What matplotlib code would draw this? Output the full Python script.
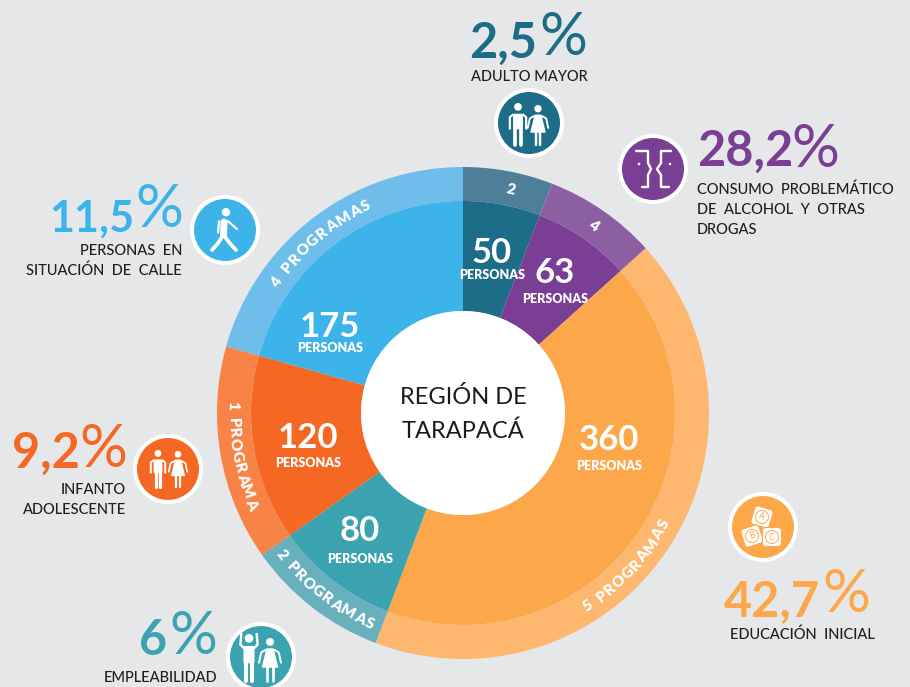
import numpy as np
import matplotlib
matplotlib.use("Agg")
import matplotlib.pyplot as plt
from matplotlib.patches import Circle, Polygon, FancyBboxPatch
from matplotlib.font_manager import FontProperties
from matplotlib.textpath import TextPath

# ---------- data ----------
groups = ["ADULTO MAYOR", "CONSUMO", "EDUCACION", "EMPLEO", "INFANTO", "CALLE"]
persons = [50, 63, 360, 80, 120, 175]
programs = ["2", "4", "5 PROGRAMAS", "2 PROGRAMAS", "1 PROGRAMA", "4 PROGRAMAS"]
shares = ["2,5", "28,2", "42,7", "6", "9,2", "11,5"]
captions = [["ADULTO MAYOR"],
            ["CONSUMO  PROBLEMÁTICO", "DE  ALCOHOL  Y  OTRAS", "DROGAS"],
            ["EDUCACIÓN  INICIAL"],
            ["EMPLEABILIDAD"],
            ["INFANTO", "ADOLESCENTE"],
            ["PERSONAS  EN", "SITUACIÓN  DE  CALLE"]]
center_title = ["REGIÓN DE", "TARAPACÁ"]
unit = "PERSONAS"

# ---------- styles ----------
inner_colors = ["#1D6C88", "#7A3E94", "#FCA84A", "#3AA3AF", "#F46823", "#3CB4E9"]
outer_colors = ["#4F7F98", "#8C5FA3", "#FDB76F", "#68B0BC", "#F78347", "#6EBDEA"]
BG = "#E6E7E9"
INK = "#1E1E1E"
FONT = "Lato"
CX, CY, R_OUT, R_MID, R_HOLE = 463, 413, 246, 212, 102

fig = plt.figure(figsize=(9.10, 6.87), dpi=100, facecolor=BG)
ax = fig.add_axes([0, 0, 1, 1])
ax.set_facecolor(BG)

# y axis runs downward, so increasing angle runs clockwise on screen
ax.pie(persons, colors=outer_colors, startangle=-90, counterclock=True,
       center=(CX, CY), radius=R_OUT,
       wedgeprops=dict(width=R_OUT - R_MID, linewidth=0))
ax.pie(persons, colors=inner_colors, startangle=-90, counterclock=True,
       center=(CX, CY), radius=R_MID,
       wedgeprops=dict(width=R_MID - R_HOLE, linewidth=0))
ax.add_patch(Circle((CX, CY), R_HOLE, fc="white", ec="none", zorder=3))
ax.set_xlim(0, 910)
ax.set_ylim(687, 0)
ax.set_aspect("equal")
ax.axis("off")


def px(v):
    return v * 0.72


for i, line in enumerate(center_title):
    ax.text(CX, 397 + 34 * i, line, ha="center", va="center", color="#1A1A1A",
            family=FONT, size=17, weight="regular", zorder=4)

# values inside the inner ring
value_pos = [(492, 253, 275), (555, 273, 299), (609, 440, 466),
             (360, 531, 559), (308, 438, 463), (330, 327, 348)]
for v, (x, y1, y2) in zip(persons, value_pos):
    ax.text(x, y1, str(v), ha="center", va="center", color="white",
            family=FONT, weight="bold", size=25, zorder=5)
    ax.text(x, y2, unit, ha="center", va="center", color="white",
            family=FONT, weight="heavy", size=9.0, zorder=5)


# text on the outer ring
def arc_text(text, mid_deg, size, clockwise, spacing=1.0):
    fp = FontProperties(family=FONT, weight="heavy", size=size)
    adv = []
    for ch in text:
        if ch == " ":
            adv.append(size * 0.5)
        else:
            adv.append(TextPath((0, 0), ch, prop=fp).get_extents().width + size * 0.12)
    adv = np.array(adv) * spacing / 0.72  # px
    total = adv.sum()
    cap = size / 0.72 * 0.72
    rb = (R_OUT + R_MID) / 2 + (-cap / 2 if clockwise else cap / 2)
    s = -total / 2
    for ch, w in zip(text, adv):
        d = s + w / 2
        s += w
        if ch == " ":
            continue
        sign = 1 if clockwise else -1
        th = mid_deg + sign * np.degrees(d / rb)
        t = np.radians(th)
        x = CX + rb * np.sin(t)
        y = CY - rb * np.cos(t)
        rot = -th if clockwise else 180 - th
        ax.text(x, y, ch, ha="center", va="baseline", rotation=rot, rotation_mode="anchor",
                color="white", family=FONT, weight="heavy", size=size, zorder=5)


arc_layout = [(12, True), (35, True), (133, False), (218, False), (259, False), (320, True)]
for label, (mid, cw) in zip(programs, arc_layout):
    arc_text(label, mid, 11, cw)

# big percentage figures:
# (right edge of digits, digit baseline, digit size, right edge of percent, percent baseline)
pct_layout = [(537, 58, 35, 587, 55), (793, 166, 35, 839, 167), (820, 617, 35, 870, 612),
              (167, 655, 35, 217, 654), (80, 468, 35, 127, 467), (134, 232, 31, 183, 227)]
for s, c, (xd, yb, sz, xp, yp) in zip(shares, inner_colors, pct_layout):
    ax.text(xd, yb, s, ha="right", va="baseline", color=c, family=FONT,
            weight="bold", size=sz, zorder=5)
    ax.text(xp, yp, "%", ha="right", va="baseline", color=c, family=FONT,
            weight="regular", size=43, zorder=6)

# captions: (x, first line y, line step, alignment)
cap_layout = [(529, 77, 20, "center"), (697, 190, 20, "left"), (802, 635, 20, "center"),
              (217, 678, 20, "right"), (126, 490, 20, "right"), (182, 251, 20, "right")]
for lines, (x, y, dy, ha) in zip(captions, cap_layout):
    for i, line in enumerate(lines):
        ax.text(x, y + i * dy, line, ha=ha, va="center", color=INK, family=FONT,
                size=10.5, weight="medium", zorder=5)


# ---------- icons ----------
def badge(x, y, color):
    ax.add_patch(Circle((x, y), 35, fc="white", ec="none", zorder=5))
    ax.add_patch(Circle((x, y), 31, fc=color, ec="none", zorder=6))


def stroke(xs, ys, w, color="white", z=7, join="round"):
    ax.plot(xs, ys, color=color, lw=px(w), solid_capstyle="round", solid_joinstyle=join, zorder=z)


def man(cx, top, h, arms_up=False):
    r = 0.09 * h
    ax.add_patch(Circle((cx, top + r), r, fc="white", ec="none", zorder=7))
    w = 0.115 * h
    ax.add_patch(FancyBboxPatch((cx - w, top + 0.25 * h), 2 * w, 0.36 * h,
                                boxstyle="round,pad=0,rounding_size=1.5", fc="white", ec="none", zorder=7))
    for sg in (-1, 1):
        stroke([cx + sg * 0.06 * h] * 2, [top + 0.58 * h, top + h - 1], 0.085 * h)
        if arms_up:
            stroke([cx + sg * 0.10 * h, cx + sg * 0.18 * h, cx + sg * 0.16 * h],
                   [top + 0.3 * h, top + 0.22 * h, top], 0.05 * h)
        else:
            stroke([cx + sg * 0.12 * h, cx + sg * 0.19 * h, cx + sg * 0.19 * h],
                   [top + 0.27 * h, top + 0.33 * h, top + 0.6 * h], 0.05 * h)


def woman(cx, top, h):
    r = 0.09 * h
    ax.add_patch(Circle((cx, top + r), r, fc="white", ec="none", zorder=7))
    ax.add_patch(Polygon([(cx - 0.07 * h, top + 0.25 * h), (cx + 0.07 * h, top + 0.25 * h),
                          (cx + 0.17 * h, top + 0.66 * h), (cx - 0.17 * h, top + 0.66 * h)],
                         closed=True, fc="white", ec="white", lw=1, joinstyle="round", zorder=7))
    for sg in (-1, 1):
        stroke([cx + sg * 0.06 * h] * 2, [top + 0.64 * h, top + h - 1], 0.06 * h)
        stroke([cx + sg * 0.10 * h, cx + sg * 0.2 * h, cx + sg * 0.25 * h],
               [top + 0.27 * h, top + 0.33 * h, top + 0.56 * h], 0.045 * h)


def walker(cx, top, h):
    r = 0.095 * h
    ax.add_patch(Circle((cx + 1, top + r), r, fc="white", ec="none", zorder=7))
    stroke([cx - 1, cx - 1.5], [top + 0.32 * h, top + 0.6 * h], 0.16 * h)
    stroke([cx - 2, cx - 7, cx - 13], [top + 0.62 * h, top + 0.8 * h, top + h - 2], 0.085 * h)
    stroke([cx - 1, cx + 4, cx + 11], [top + 0.62 * h, top + 0.78 * h, top + h - 2], 0.085 * h)
    stroke([cx + 3, cx + 12], [top + 0.3 * h, top + 0.48 * h], 0.05 * h)
    stroke([cx - 6, cx - 7], [top + 0.3 * h, top + 0.56 * h], 0.05 * h)


def faces(cx, cy):
    left = [(-17, -18), (-5, -18), (-5, -6), (-2, 0), (-5, 6), (-5, 18), (-11, 18)]
    right = [(18, -18), (8, -18), (8, -6), (4, 0), (8, 6), (8, 18), (16, 18)]
    for pts in (left, right):
        stroke([cx + p[0] for p in pts], [cy + p[1] for p in pts], 2.4)
    ax.add_patch(Circle((cx - 14, cy - 5), 1.3, fc="white", ec="none", zorder=7))
    ax.add_patch(Circle((cx + 17, cy - 5), 1.3, fc="white", ec="none", zorder=7))


def block(cx, cy, ch, rot, color):
    tr = matplotlib.transforms.Affine2D().rotate_deg_around(cx, cy, rot) + ax.transData
    ax.add_patch(FancyBboxPatch((cx - 9.5, cy - 9.5), 19, 19, boxstyle="round,pad=0,rounding_size=3",
                                fc="white", ec=color, lw=0.8, transform=tr, zorder=7))
    ax.add_patch(Circle((cx, cy), 6.5, fc="none", ec=color, lw=0.7, zorder=8))
    ax.text(cx, cy, ch, ha="center", va="center", color=color, rotation=-rot,
            family=FONT, size=6.5, zorder=9, rotation_mode="anchor")


badge_pos = [(529, 123), (653, 169), (763, 527), (261, 657), (168, 469), (225, 230)]
for (bx, by), c in zip(badge_pos, inner_colors):
    badge(bx, by, c)

man(518, 103, 43)
woman(538, 105, 41)
faces(653, 169)
block(762, 517, "A", 17, inner_colors[2])
block(752, 536, "B", -18, inner_colors[2])
block(772, 537, "C", 0, inner_colors[2])
man(249, 634, 48, arms_up=True)
woman(270, 638, 44)
man(158, 450, 38)
woman(178, 451, 37)
walker(225, 208, 44)

fig.savefig("out.png", dpi=100, facecolor=BG)
